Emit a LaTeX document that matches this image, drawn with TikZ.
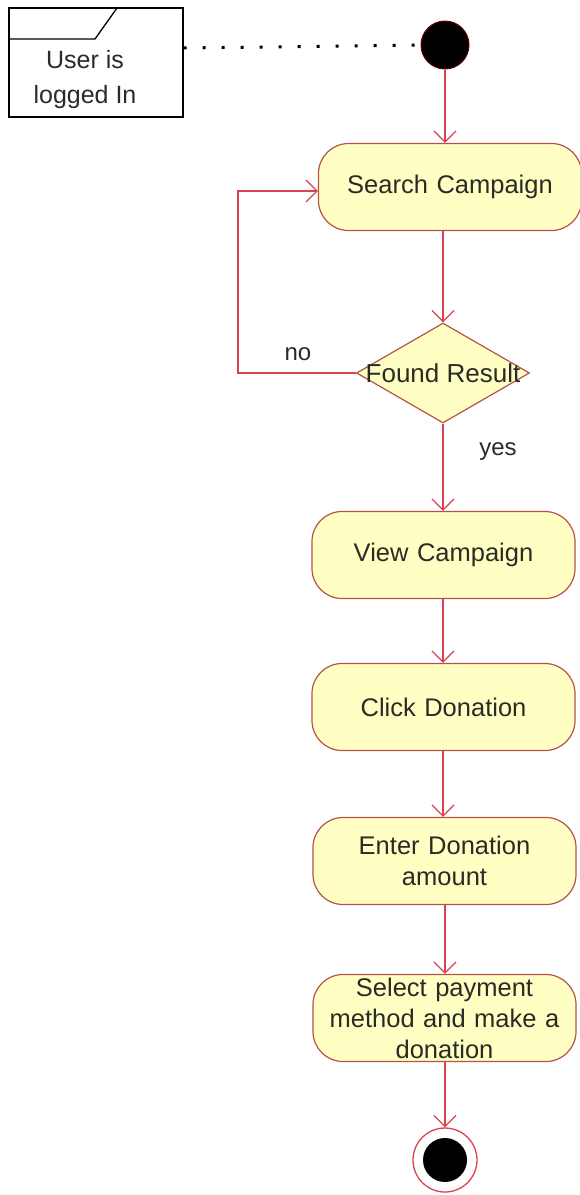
\documentclass[tikz,border=0pt]{standalone}
\usepackage{fontspec}
\setmainfont{Liberation Sans}
\usetikzlibrary{arrows.meta,shapes.geometric,calc}

\definecolor{actfill}{HTML}{FFFFC4}
\definecolor{actline}{HTML}{B5524A}
\definecolor{flow}{HTML}{D9434F}
\definecolor{txt}{HTML}{2B2B26}

\tikzset{
  activity/.style={draw=actline, fill=actfill, line width=1.2pt,
    rounded corners=30pt, minimum width=263pt, minimum height=87pt,
    text width=250pt, align=center, text=txt,
    font=\fontsize{25.5}{31}\selectfont, inner sep=0pt},
  decision/.style={diamond, draw=actline, fill=actfill, line width=1.2pt,
    minimum width=173pt, minimum height=100pt, inner sep=0pt, aspect=1.73},
  decisiontext/.style={text=txt, font=\fontsize{26}{29}\selectfont},
  flowline/.style={draw=flow, line width=1.3pt,
    -{Straight Barb[length=11pt,width=22pt,line width=1.3pt]}},
  guard/.style={text=txt, font=\fontsize{24}{28}\selectfont},
}

\begin{document}
\begin{tikzpicture}[x=1pt,y=-1pt]
  \useasboundingbox (0,0) rectangle (579,1195);

  % constraint note attached to the start
  \node[draw=black, line width=1.3pt, minimum width=174pt, minimum height=109pt,
        inner sep=0pt] (note) at (96,62.5) {};
  \draw[black, line width=1.3pt] (note.west |- 0,39) -- (95,39) -- (117,8);
  \node[align=center, text=txt, font=\fontsize{25}{35}\selectfont]
        (notetext) at (85,80) {User is\\logged In};

  % start and end states
  \node[circle, fill=black, draw=black!60!red, line width=1pt,
        minimum size=48pt, inner sep=0pt] (start) at (445,45) {};
  \node[circle, draw=flow, fill=white, line width=1.3pt,
        minimum size=64pt, inner sep=0pt] (endring) at (445,1160) {};
  \node[circle, fill=black, minimum size=44pt, inner sep=0pt] (enddot) at (445,1160) {};

  \draw[black, line width=3pt, dash pattern=on 3pt off 16pt]
        (note.east |- 0,48) -- (start.west);

  % activities; the decision label may run past the diamond's edges
  \node[activity] (search) at (450,187) {Search Campaign};
  \node[decision, label={[decisiontext]center:Found Result}] (found) at (443,373) {};
  \node[activity] (view) at (443.5,555) {View Campaign};
  \node[activity] (click) at (443.5,707) {Click Donation};
  \node[activity] (amount) at (444.5,861) {Enter Donation\\amount};
  \node[activity] (pay) at (444.5,1018) {Select payment\\method and make a\\donation};

  % control flow
  \draw[flowline] (start.south) -- (start.south |- search.north);
  \draw[flowline] (search.south -| found.north) -- (found.north);
  \draw[flowline] (found.west) -- (238,373) |- ([yshift=-4pt]search.west);
  \draw[flowline] (found.south) -- (found.south |- view.north);
  \draw[flowline] (view.south -| 443,0) -- (click.north -| 443,0);
  \draw[flowline] (click.south -| 443,0) -- (amount.north -| 443,0);
  \draw[flowline] (amount.south -| 445,0) -- (pay.north -| 445,0);
  \draw[flowline] (pay.south -| 445,0) -- (endring.north);

  % guards
  \node[guard] (no) at (298,354) {no};
  \node[guard] (yes) at (498,452) {yes};
\end{tikzpicture}
\end{document}
